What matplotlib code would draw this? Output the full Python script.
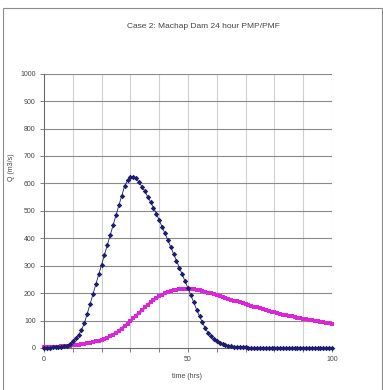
import matplotlib
matplotlib.use("Agg")
import matplotlib.pyplot as plt
from matplotlib.patches import Rectangle

plt.rcParams['font.family'] = ['Liberation Sans', 'DejaVu Sans']

title = "Case 2: Machap Dam 24 hour PMP/PMF"
xlabel = "time (hrs)"
ylabel = "Q (m3/s)"

time_hrs = list(range(0, 101))

pmf_series1 = [
    0, 1, 1, 2, 2, 3, 4, 6, 9, 15,
    25, 35, 48, 65, 90, 125, 160, 196, 232, 268,
    304, 340, 376, 412, 448, 484, 520, 555, 590, 612,
    625, 624, 618, 605, 588, 572, 552, 532, 512, 490,
    466, 442, 418, 394, 368, 343, 318, 293, 268, 243,
    218, 192, 166, 140, 116, 93, 72, 55, 42, 32,
    25, 20, 15, 12, 9, 7, 5, 4, 3, 2,
    2, 1, 1, 1, 1, 1, 1, 1, 1, 1,
    1, 1, 1, 1, 1, 1, 1, 1, 1, 1,
    1, 1, 1, 1, 1, 1, 1, 1, 1, 1,
    1,
]

pmf_series2 = [
    3, 3, 4, 4, 5, 5, 6, 7, 8, 9,
    10, 11, 12, 14, 15, 17, 19, 21, 24, 27,
    30, 34, 38, 43, 49, 56, 63, 71, 80, 89,
    98, 108, 118, 128, 138, 148, 157, 166, 174, 182,
    188, 194, 199, 203, 207, 210, 212, 214, 215, 216,
    216, 215, 214, 212, 210, 208, 205, 202, 199, 196,
    193, 190, 186, 183, 180, 176, 173, 170, 167, 163,
    160, 157, 154, 151, 148, 145, 142, 139, 136, 133,
    130, 127, 124, 122, 119, 117, 115, 113, 111, 109,
    107, 105, 103, 101, 99, 97, 95, 94, 92, 91,
    89,
]

x_ticks = list(range(0, 101, 10))
x_tick_labels = ["0", "", "", "", "", "50", "", "", "", "", "100"]
y_ticks = list(range(0, 1001, 100))

W, H = 383, 390
fig = plt.figure(figsize=(W / 100, H / 100), dpi=100)
fig.patch.set_facecolor("white")

# outer chart frame
fig.patches.append(Rectangle((3 / W, -0.05), (382 - 3) / W, (H - 8) / H + 0.05,
                             transform=fig.transFigure, fill=False,
                             edgecolor="#8c8c8c", linewidth=0.8))

left, right, top, bottom = 44, 332, 73.7, 348
ax = fig.add_axes([left / W, (H - bottom) / H, (right - left) / W, (bottom - top) / H])

ax.set_xlim(0, 100)
ax.set_ylim(0, 1000)
ax.set_xticks(x_ticks)
ax.set_xticklabels(x_tick_labels)
ax.set_yticks(y_ticks)
ax.set_yticklabels([str(v) for v in y_ticks])

for xv in x_ticks[1:]:
    ax.axvline(xv, color="#d0d0d0", linewidth=0.8, zorder=0)
for yv in y_ticks[1:]:
    ax.axhline(yv, color="#8a8a8a", linewidth=0.8, zorder=0)

for s in ["top", "right"]:
    ax.spines[s].set_visible(False)
ax.spines["left"].set_color("#6a6a6a")
ax.spines["bottom"].set_color("#6a6a6a")
ax.spines["left"].set_linewidth(0.8)
ax.spines["bottom"].set_linewidth(0.8)
ax.tick_params(axis="both", direction="out", length=3, width=0.6, color="#6a6a6a",
               labelsize=5, labelcolor="#444444", pad=3)

ax.plot(time_hrs, pmf_series2, color="#d926d9", linewidth=2.0, marker="s",
        markersize=3.4, markeredgewidth=0, zorder=3, clip_on=False)
ax.plot(time_hrs, pmf_series1, color="#1c1c70", linewidth=0.6, marker="D",
        markersize=2.8, markeredgewidth=0, zorder=4, clip_on=False)

fig.text(203 / W, 1 - 26 / H, title, ha="center", va="center", fontsize=6, color="#444444")
fig.text(187 / W, 1 - 376 / H, xlabel, ha="center", va="center", fontsize=5, color="#444444")
fig.text(12 / W, 1 - 167 / H, ylabel, ha="center", va="center", fontsize=5, rotation=90,
         color="#444444")

fig.savefig("out.png", dpi=100)
